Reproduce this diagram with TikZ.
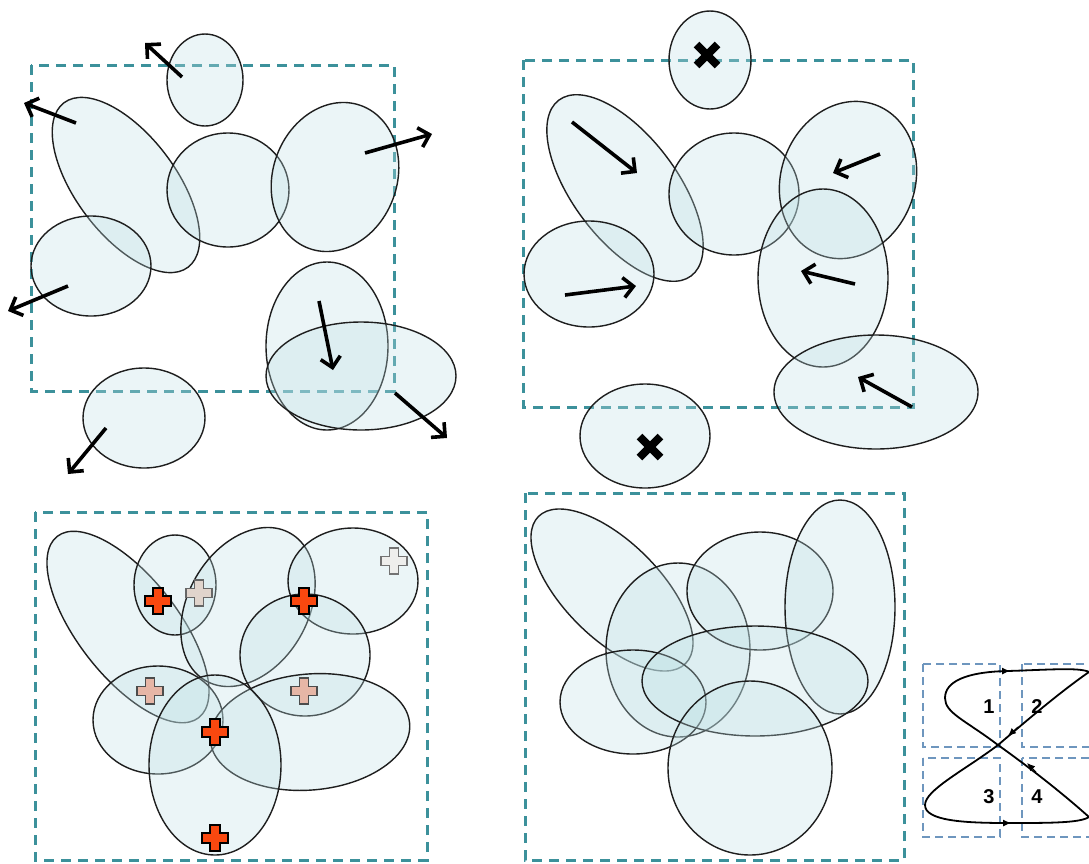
\documentclass[tikz,border=0pt]{standalone}
\usepackage{fontspec}
\setmainfont{Liberation Sans}
\usetikzlibrary{arrows.meta}
\definecolor{blobfill}{RGB}{190,225,230}
\definecolor{blobline}{RGB}{30,30,30}
\definecolor{frame}{RGB}{60,145,155}
\definecolor{smallframe}{RGB}{110,150,190}
\definecolor{plusred}{RGB}{250,72,15}
\definecolor{pluspink}{RGB}{230,182,166}
\definecolor{plusbeige}{RGB}{224,212,204}
\definecolor{plusgray}{RGB}{238,238,236}
\tikzset{
  blob/.style={draw=blobline, line width=1.4pt, fill=blobfill, fill opacity=0.3},
  panelframe/.style={draw=frame, line width=3pt, dash pattern=on 10pt off 7pt},
  quadframe/.style={draw=smallframe, line width=1.4pt, dash pattern=on 8pt off 5pt},
  motion/.style={line width=3.6pt, -{Straight Barb[length=10pt,width=20pt]}},
  xmark/.style={line width=8pt},
  plusshape/.style={line width=1.6pt},
  digit/.style={font=\fontsize{20}{22}\selectfont\bfseries, inner sep=0pt},
  pics/plus/.style={code={
    \draw[plusshape, #1] (-4.8,-13) -- (4.8,-13) -- (4.8,-4.8) -- (13,-4.8) -- (13,4.8) -- (4.8,4.8)
      -- (4.8,13) -- (-4.8,13) -- (-4.8,4.8) -- (-13,4.8) -- (-13,-4.8) -- (-4.8,-4.8) -- cycle;
  }},
  pics/cross/.style={code={
    \draw[xmark] (-10.5,-10.5) -- (10.5,10.5) (-10.5,10.5) -- (10.5,-10.5);
  }}
}
\begin{document}
\begin{tikzpicture}[x=1pt,y=-1pt]
\useasboundingbox (0,0) rectangle (1089,863);
\fill[white] (0,0) rectangle (1089,863);

% ---------------- Panel 1 (top left) ----------------
\draw[panelframe] (31,65) rectangle (394,391);
\path[blob] (205,80) ellipse [x radius=38, y radius=46];
\path[blob, rotate around={-53:(126,185)}] (126,185) ellipse [x radius=103, y radius=50];
\path[blob] (228,190) ellipse [x radius=61, y radius=57];
\path[blob, rotate around={70:(335,177)}] (335,177) ellipse [x radius=76, y radius=62];
\path[blob] (91,266) ellipse [x radius=60, y radius=50];
\path[blob] (327,346) ellipse [x radius=61, y radius=84];
\path[blob] (361,376) ellipse [x radius=95, y radius=54];
\path[blob] (144,418) ellipse [x radius=61, y radius=50];
\coordinate (a1s) at (182,77);  \coordinate (a1e) at (145,43);
\coordinate (a2s) at (76,123);  \coordinate (a2e) at (24,103);
\coordinate (a3s) at (365,153); \coordinate (a3e) at (432,134);
\coordinate (a4s) at (68,286);  \coordinate (a4e) at (8,311);
\coordinate (a5s) at (319,301); \coordinate (a5e) at (333,370);
\coordinate (a6s) at (395,393); \coordinate (a6e) at (447,438);
\coordinate (a7s) at (106,428); \coordinate (a7e) at (68,474);
\foreach \i in {1,...,7} \draw[motion] (a\i s) -- (a\i e);

% ---------------- Panel 2 (top right) ----------------
\draw[panelframe] (523,60) rectangle (913,407);
\path[blob] (710,60) ellipse [x radius=41, y radius=49];
\path[blob, rotate around={-53:(625,188)}] (625,188) ellipse [x radius=110, y radius=52];
\path[blob] (734,194) ellipse [x radius=65, y radius=61];
\path[blob, rotate around={70:(848,180)}] (848,180) ellipse [x radius=80, y radius=67];
\path[blob] (589,274) ellipse [x radius=65, y radius=53];
\path[blob] (823,278) ellipse [x radius=65, y radius=89];
\path[blob] (876,392) ellipse [x radius=102, y radius=57];
\path[blob] (645,436) ellipse [x radius=65, y radius=52];
\pic at (707,55) {cross};
\pic at (650,447) {cross};
\coordinate (b1s) at (572,122); \coordinate (b1e) at (637,173);
\coordinate (b2s) at (880,154); \coordinate (b2e) at (833,173);
\coordinate (b3s) at (565,295); \coordinate (b3e) at (636,286);
\coordinate (b4s) at (855,284); \coordinate (b4e) at (801,271);
\coordinate (b5s) at (912,407); \coordinate (b5e) at (858,377);
\foreach \i in {1,...,5} \draw[motion] (b\i s) -- (b\i e);

% ---------------- Panel 3 (bottom left) ----------------
\draw[panelframe] (35,512) rectangle (427,860);
\path[blob, rotate around={-52:(128,627)}] (128,627) ellipse [x radius=115, y radius=50];
\path[blob] (175,585) ellipse [x radius=41, y radius=50];
\path[blob, rotate around={60:(248,607)}] (248,607) ellipse [x radius=85, y radius=60];
\path[blob] (353,581) ellipse [x radius=65, y radius=53];
\path[blob] (305,655) ellipse [x radius=65, y radius=61];
\path[blob] (158,720) ellipse [x radius=65, y radius=54];
\path[blob, rotate around={5:(310,732)}] (310,732) ellipse [x radius=100, y radius=58];
\path[blob] (215,765) ellipse [x radius=66, y radius=90];
\pic at (158,601) {plus={fill=plusred, draw=black}};
\pic at (304,601) {plus={fill=plusred, draw=black}};
\pic at (215,732) {plus={fill=plusred, draw=black}};
\pic at (215,838) {plus={fill=plusred, draw=black}};
\pic at (150,691) {plus={fill=pluspink, draw=black!70, line width=1.1pt}};
\pic at (304,691) {plus={fill=pluspink, draw=black!70, line width=1.1pt}};
\pic at (199,593) {plus={fill=plusbeige, draw=black!60, line width=1.1pt}};
\pic at (394,561) {plus={fill=plusgray, draw=black!55, line width=1.1pt}};

% ---------------- Panel 4 (bottom middle) ----------------
\draw[panelframe] (525,493) rectangle (904,860);
\path[blob, rotate around={-45:(612,590)}] (612,590) ellipse [x radius=104, y radius=48];
\path[blob] (678,650) ellipse [x radius=72, y radius=87];
\path[blob] (760,591) ellipse [x radius=73, y radius=59];
\path[blob] (840,607) ellipse [x radius=55, y radius=107];
\path[blob] (633,702) ellipse [x radius=73, y radius=52];
\path[blob] (755,681) ellipse [x radius=113, y radius=55];
\path[blob] (750,768) ellipse [x radius=82, y radius=87];

% ---------------- Panel 5 (figure eight) ----------------
\draw[quadframe] (923,664) rectangle (1000,747);
\draw[quadframe] (1022,664) rectangle (1100,747);
\draw[quadframe] (923,758) rectangle (1000,837);
\draw[quadframe] (1022,758) rectangle (1100,837);
\node[digit] (q1) at (989,707) {1};
\node[digit] (q2) at (1037,707) {2};
\node[digit] (q3) at (989,797) {3};
\node[digit] (q4) at (1037,797) {4};
\coordinate (C) at (998,745);
\draw[line width=1.8pt] (C) .. controls (965,720) and (945,713) .. (945,698)
  .. controls (945,682) and (965,672) .. (1007,671)
  .. controls (1045,670) and (1080,667) .. (1089,672)
  .. controls (1060,692) and (1025,722) .. (C)
  .. controls (965,770) and (925,790) .. (925,805)
  .. controls (925,821) and (965,823) .. (1008,823)
  .. controls (1050,823) and (1080,823) .. (1089,817)
  .. controls (1070,800) and (1040,775) .. (C);
\coordinate (t1s) at (998,671);   \coordinate (t1e) at (1010,671);
\coordinate (t2s) at (1018,727);  \coordinate (t2e) at (1008,736);
\coordinate (t3s) at (999,823);  \coordinate (t3e) at (1011,823);
\coordinate (t4s) at (1036,772);  \coordinate (t4e) at (1027,763);
\foreach \i in {1,...,4} \draw[line width=1pt, -{Latex[length=8pt,width=7pt]}] (t\i s) -- (t\i e);
\end{tikzpicture}
\end{document}
